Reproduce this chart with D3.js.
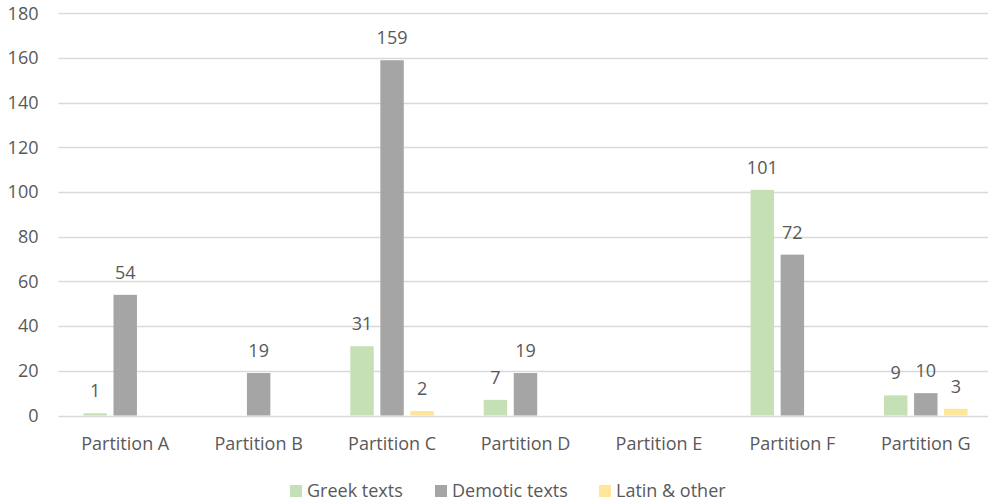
<!DOCTYPE html>
<html>
<head>
<meta charset="utf-8">
<script src="https://cdn.jsdelivr.net/npm/d3@7"></script>
<style>
  html, body { margin: 0; padding: 0; background: #fff; overflow: hidden; }
  svg { display: block; font-family: "Open Sans", sans-serif; }
</style>
</head>
<body>
<svg id="chart" width="988" height="503"></svg>
<script>
// Categories and series
const partitions = ["Partition A", "Partition B", "Partition C", "Partition D", "Partition E", "Partition F", "Partition G"];
const seriesNames = ["Greek texts", "Demotic texts", "Latin & other"];
const greekTexts = [1, 0, 31, 7, 0, 101, 9];
const demoticTexts = [54, 19, 159, 19, 0, 72, 10];
const latinOther = [0, 0, 2, 0, 0, 0, 3];
const yTicks = [0, 20, 40, 60, 80, 100, 120, 140, 160, 180];

const seriesValues = [greekTexts, demoticTexts, latinOther];
const colors = ["#c5e0b4", "#a5a5a5", "#ffe699"];
const textColor = "#595959";
const fontSize = "18px";

const svg = d3.select("#chart");
const W = 988;
const plotLeft = 58.5, plotRight = 992.5;

const x = d3.scaleBand().domain(partitions).range([plotLeft, plotRight]);
const inner = d3.scaleBand().domain(seriesNames).range([0, x.bandwidth()]).paddingInner(0.22).paddingOuter(0.83);
const y = d3.scaleLinear().domain([0, 180]).range([415.5, 13.3]);

// Gridlines
svg.append("g")
  .selectAll("line")
  .data(yTicks)
  .join("line")
  .attr("x1", plotLeft)
  .attr("x2", W)
  .attr("y1", d => Math.round(y(d)) + 0.5)
  .attr("y2", d => Math.round(y(d)) + 0.5)
  .attr("stroke", "#d9d9d9")
  .attr("stroke-width", 1.3);

// Y axis labels
const yAxis = d3.axisLeft(y).tickValues(yTicks).tickSize(0).tickPadding(0);
const yg = svg.append("g").attr("transform", `translate(${plotLeft - 20},0)`).call(yAxis);
yg.select(".domain").remove();
yg.selectAll("text").attr("fill", textColor).style("font-size", fontSize).style("font-family", "'Open Sans', sans-serif");

// Bars with value labels (zero values are left unlabeled)
const groups = svg.append("g")
  .selectAll("g")
  .data(partitions)
  .join("g")
  .attr("transform", d => `translate(${x(d)},0)`);

seriesNames.forEach((name, si) => {
  groups.append("rect")
    .attr("x", inner(name))
    .attr("width", inner.bandwidth())
    .attr("y", (d, i) => y(seriesValues[si][i]))
    .attr("height", (d, i) => y(0) - y(seriesValues[si][i]))
    .attr("fill", colors[si]);

  groups.filter((d, i) => seriesValues[si][i] > 0)
    .append("text")
    .attr("x", inner(name) + inner.bandwidth() / 2)
    .attr("y", d => y(seriesValues[si][partitions.indexOf(d)]) - 16)
    .attr("text-anchor", "middle")
    .attr("fill", textColor)
    .style("font-size", fontSize)
    .text(d => seriesValues[si][partitions.indexOf(d)]);
});

// X axis labels
const xAxis = d3.axisBottom(x).tickSize(0).tickPadding(0);
const xg = svg.append("g").attr("transform", `translate(0,${y(0) + 22})`).call(xAxis);
xg.select(".domain").remove();
xg.selectAll("text").attr("fill", textColor).style("font-size", fontSize).style("font-family", "'Open Sans', sans-serif");

// Legend
const legendX = [290, 435, 599];
const legend = svg.append("g").attr("transform", "translate(0,491)");
seriesNames.forEach((name, i) => {
  legend.append("rect")
    .attr("x", legendX[i])
    .attr("y", -6)
    .attr("width", 12)
    .attr("height", 12)
    .attr("fill", colors[i]);
  legend.append("text")
    .attr("x", legendX[i] + 17)
    .attr("y", 0)
    .attr("dy", "0.35em")
    .attr("fill", textColor)
    .style("font-size", fontSize)
    .text(name);
});
</script>
</body>
</html>
